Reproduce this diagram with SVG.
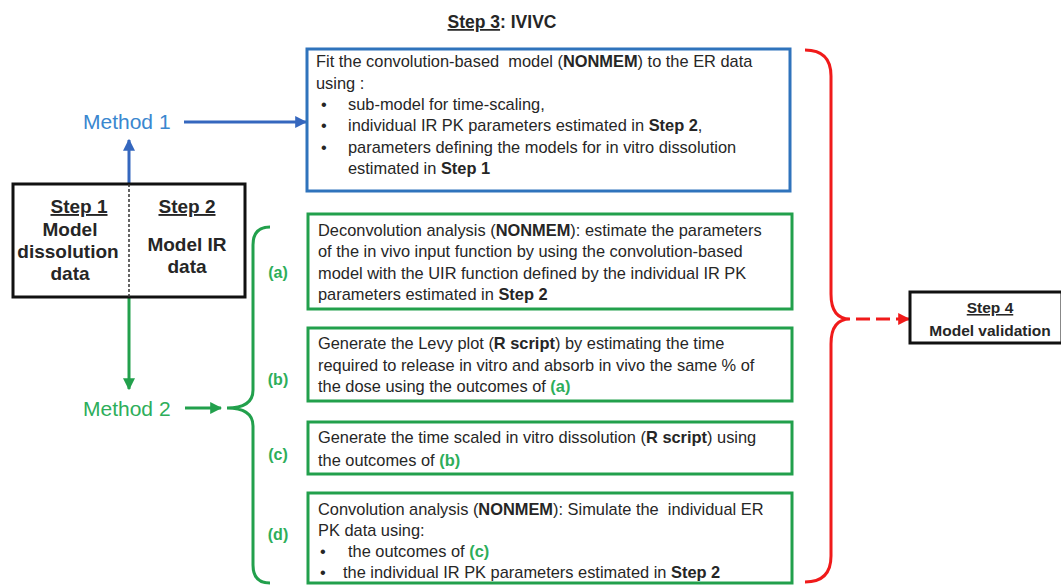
<svg xmlns="http://www.w3.org/2000/svg" width="1061" height="586" viewBox="0 0 1061 586">
  <style>
    text { font-family: "Liberation Sans", Arial, sans-serif; fill: #262626; white-space: pre; }
    .body { font-size: 16.4px; }
    .b { font-weight: bold; }
    .u { text-decoration: underline; }
    .head { font-weight: bold; }
    .lbl { font-size: 16px; font-weight: bold; fill: #2DAE5A; text-anchor: middle; }
    .g { fill: #2DAE5A; font-weight: bold; }
    .blueBox { fill: #fff; stroke: #2F73BC; stroke-width: 3; }
    .greenBox { fill: #fff; stroke: #22A04C; stroke-width: 3; }
    .blackBox { fill: #fff; stroke: #111; stroke-width: 3; }
    .method1 { font-size: 21px; fill: #3A87CF; }
    .method2 { font-size: 21px; fill: #2DAE5A; }
  </style>
  <defs>
    <marker id="arrBlue" viewBox="0 0 10 10" refX="9" refY="5" markerWidth="4" markerHeight="4" orient="auto" markerUnits="strokeWidth">
      <path d="M0,0 L10,5 L0,10 z" fill="#3567BE"/>
    </marker>
    <marker id="arrGreen" viewBox="0 0 10 10" refX="9" refY="5" markerWidth="4" markerHeight="4" orient="auto" markerUnits="strokeWidth">
      <path d="M0,0 L10,5 L0,10 z" fill="#22A04C"/>
    </marker>
    <marker id="arrRed" viewBox="0 0 10 10" refX="9" refY="5" markerWidth="4" markerHeight="4" orient="auto" markerUnits="strokeWidth">
      <path d="M0,0 L10,5 L0,10 z" fill="#F01A1A"/>
    </marker>
  </defs>

  <rect width="1061" height="586" fill="#fff"/>

  <!-- title -->
  <text x="502" y="28" class="head" font-size="17.5" text-anchor="middle"><tspan class="u">Step 3</tspan>: IVIVC</text>

  <!-- connectors -->
  <g id="connectors" fill="none">
    <line x1="129" y1="184" x2="129" y2="140" stroke="#3567BE" stroke-width="3" marker-end="url(#arrBlue)"/>
    <line x1="184" y1="122" x2="306" y2="122" stroke="#3567BE" stroke-width="3" marker-end="url(#arrBlue)"/>
    <line x1="129" y1="297" x2="129" y2="389" stroke="#22A04C" stroke-width="3" marker-end="url(#arrGreen)"/>
    <line x1="185" y1="408" x2="221" y2="408" stroke="#22A04C" stroke-width="3" marker-end="url(#arrGreen)"/>
    <!-- brace grouping the Method 2 steps -->
    <path d="M270,227 Q253,227 253,245 L253,390 Q253,408 227,408 Q253,408 253,426 L253,565 Q253,583 270,583" stroke="#22A04C" stroke-width="3"/>
    <!-- brace grouping both methods -->
    <path d="M805,50 Q831,50 831,76 L831,294 Q831,319 850,319 Q831,319 831,344 L831,556 Q831,582 805,582" stroke="#F01A1A" stroke-width="3"/>
    <line x1="856" y1="319" x2="909" y2="319" stroke="#F01A1A" stroke-width="3" stroke-dasharray="14 6" marker-end="url(#arrRed)"/>
  </g>

  <!-- Step 1 / Step 2 -->
  <g id="step12">
    <rect x="13" y="184" width="232" height="113" class="blackBox"/>
    <line x1="129" y1="184" x2="129" y2="297" stroke="#333" stroke-width="1.5" stroke-dasharray="3 2"/>
    <text x="79" y="213" class="head" text-anchor="middle" font-size="19"><tspan class="u">Step 1</tspan></text>
    <text x="70" y="236" class="head" text-anchor="middle" font-size="19">Model</text>
    <text x="68" y="258" class="head" text-anchor="middle" font-size="19">dissolution</text>
    <text x="70" y="280" class="head" text-anchor="middle" font-size="19">data</text>
    <text x="187" y="213" class="head" text-anchor="middle" font-size="19"><tspan class="u">Step 2</tspan></text>
    <text x="187" y="251" class="head" text-anchor="middle" font-size="19">Model IR</text>
    <text x="187" y="273" class="head" text-anchor="middle" font-size="19">data</text>
  </g>

  <g id="method1">
    <text x="83" y="129" class="method1">Method 1</text>
  </g>
  <g id="method2">
    <text x="83" y="416" class="method2">Method 2</text>
  </g>

  <!-- Method 1 box -->
  <g id="m1box">
    <rect x="307" y="49" width="483" height="142" class="blueBox"/>
    <text class="body" x="316" y="67">Fit the convolution-based  model (<tspan class="b">NONMEM</tspan>) to the ER data</text>
    <text class="body" x="316" y="89">using :</text>
    <text class="body" x="321" y="110">•</text>
    <text class="body" x="348" y="110">sub-model for time-scaling,</text>
    <text class="body" x="321" y="131">•</text>
    <text class="body" x="348" y="131">individual IR PK parameters estimated in <tspan class="b">Step 2</tspan>,</text>
    <text class="body" x="321" y="153">•</text>
    <text class="body" x="348" y="153">parameters defining the models for in vitro dissolution</text>
    <text class="body" x="348" y="174">estimated in <tspan class="b">Step 1</tspan></text>
  </g>

  <!-- Method 2 steps -->
  <g id="stepA">
    <text x="278" y="278" class="lbl">(a)</text>
    <rect x="308" y="214" width="484" height="95" class="greenBox"/>
    <text class="body" x="318" y="236">Deconvolution analysis (<tspan class="b">NONMEM</tspan>): estimate the parameters</text>
    <text class="body" x="318" y="257">of the in vivo input function by using the convolution-based</text>
    <text class="body" x="318" y="279">model with the UIR function defined by the individual IR PK</text>
    <text class="body" x="318" y="300">parameters estimated in <tspan class="b">Step 2</tspan></text>
  </g>
  <g id="stepB">
    <text x="278" y="385" class="lbl">(b)</text>
    <rect x="308" y="328" width="484" height="73" class="greenBox"/>
    <text class="body" x="318" y="349">Generate the Levy plot (<tspan class="b">R script</tspan>) by estimating the time</text>
    <text class="body" x="318" y="371">required to release in vitro and absorb in vivo the same % of</text>
    <text class="body" x="318" y="392">the dose using the outcomes of <tspan class="g">(a)</tspan></text>
  </g>
  <g id="stepC">
    <text x="278" y="460" class="lbl">(c)</text>
    <rect x="308" y="422" width="484" height="52" class="greenBox"/>
    <text class="body" x="318" y="443">Generate the time scaled in vitro dissolution (<tspan class="b">R script</tspan>) using</text>
    <text class="body" x="318" y="466">the outcomes of <tspan class="g">(b)</tspan></text>
  </g>
  <g id="stepD">
    <text x="278" y="540" class="lbl">(d)</text>
    <rect x="308" y="493" width="484" height="90" class="greenBox"/>
    <text class="body" x="318" y="515">Convolution analysis (<tspan class="b">NONMEM</tspan>): Simulate the  individual ER</text>
    <text class="body" x="318" y="536">PK data using:</text>
    <text class="body" x="320" y="557">•</text>
    <text class="body" x="348" y="557">the outcomes of <tspan class="g">(c)</tspan></text>
    <text class="body" x="320" y="578">•</text>
    <text class="body" x="343" y="578">the individual IR PK parameters estimated in <tspan class="b">Step 2</tspan></text>
  </g>

  <!-- Step 4 -->
  <g id="step4">
    <rect x="910" y="292" width="152" height="51" class="blackBox"/>
    <text x="990" y="313" class="head" font-size="15.5" text-anchor="middle"><tspan class="u">Step 4</tspan></text>
    <text x="990" y="336" class="head" font-size="15.5" text-anchor="middle">Model validation</text>
  </g>
</svg>
